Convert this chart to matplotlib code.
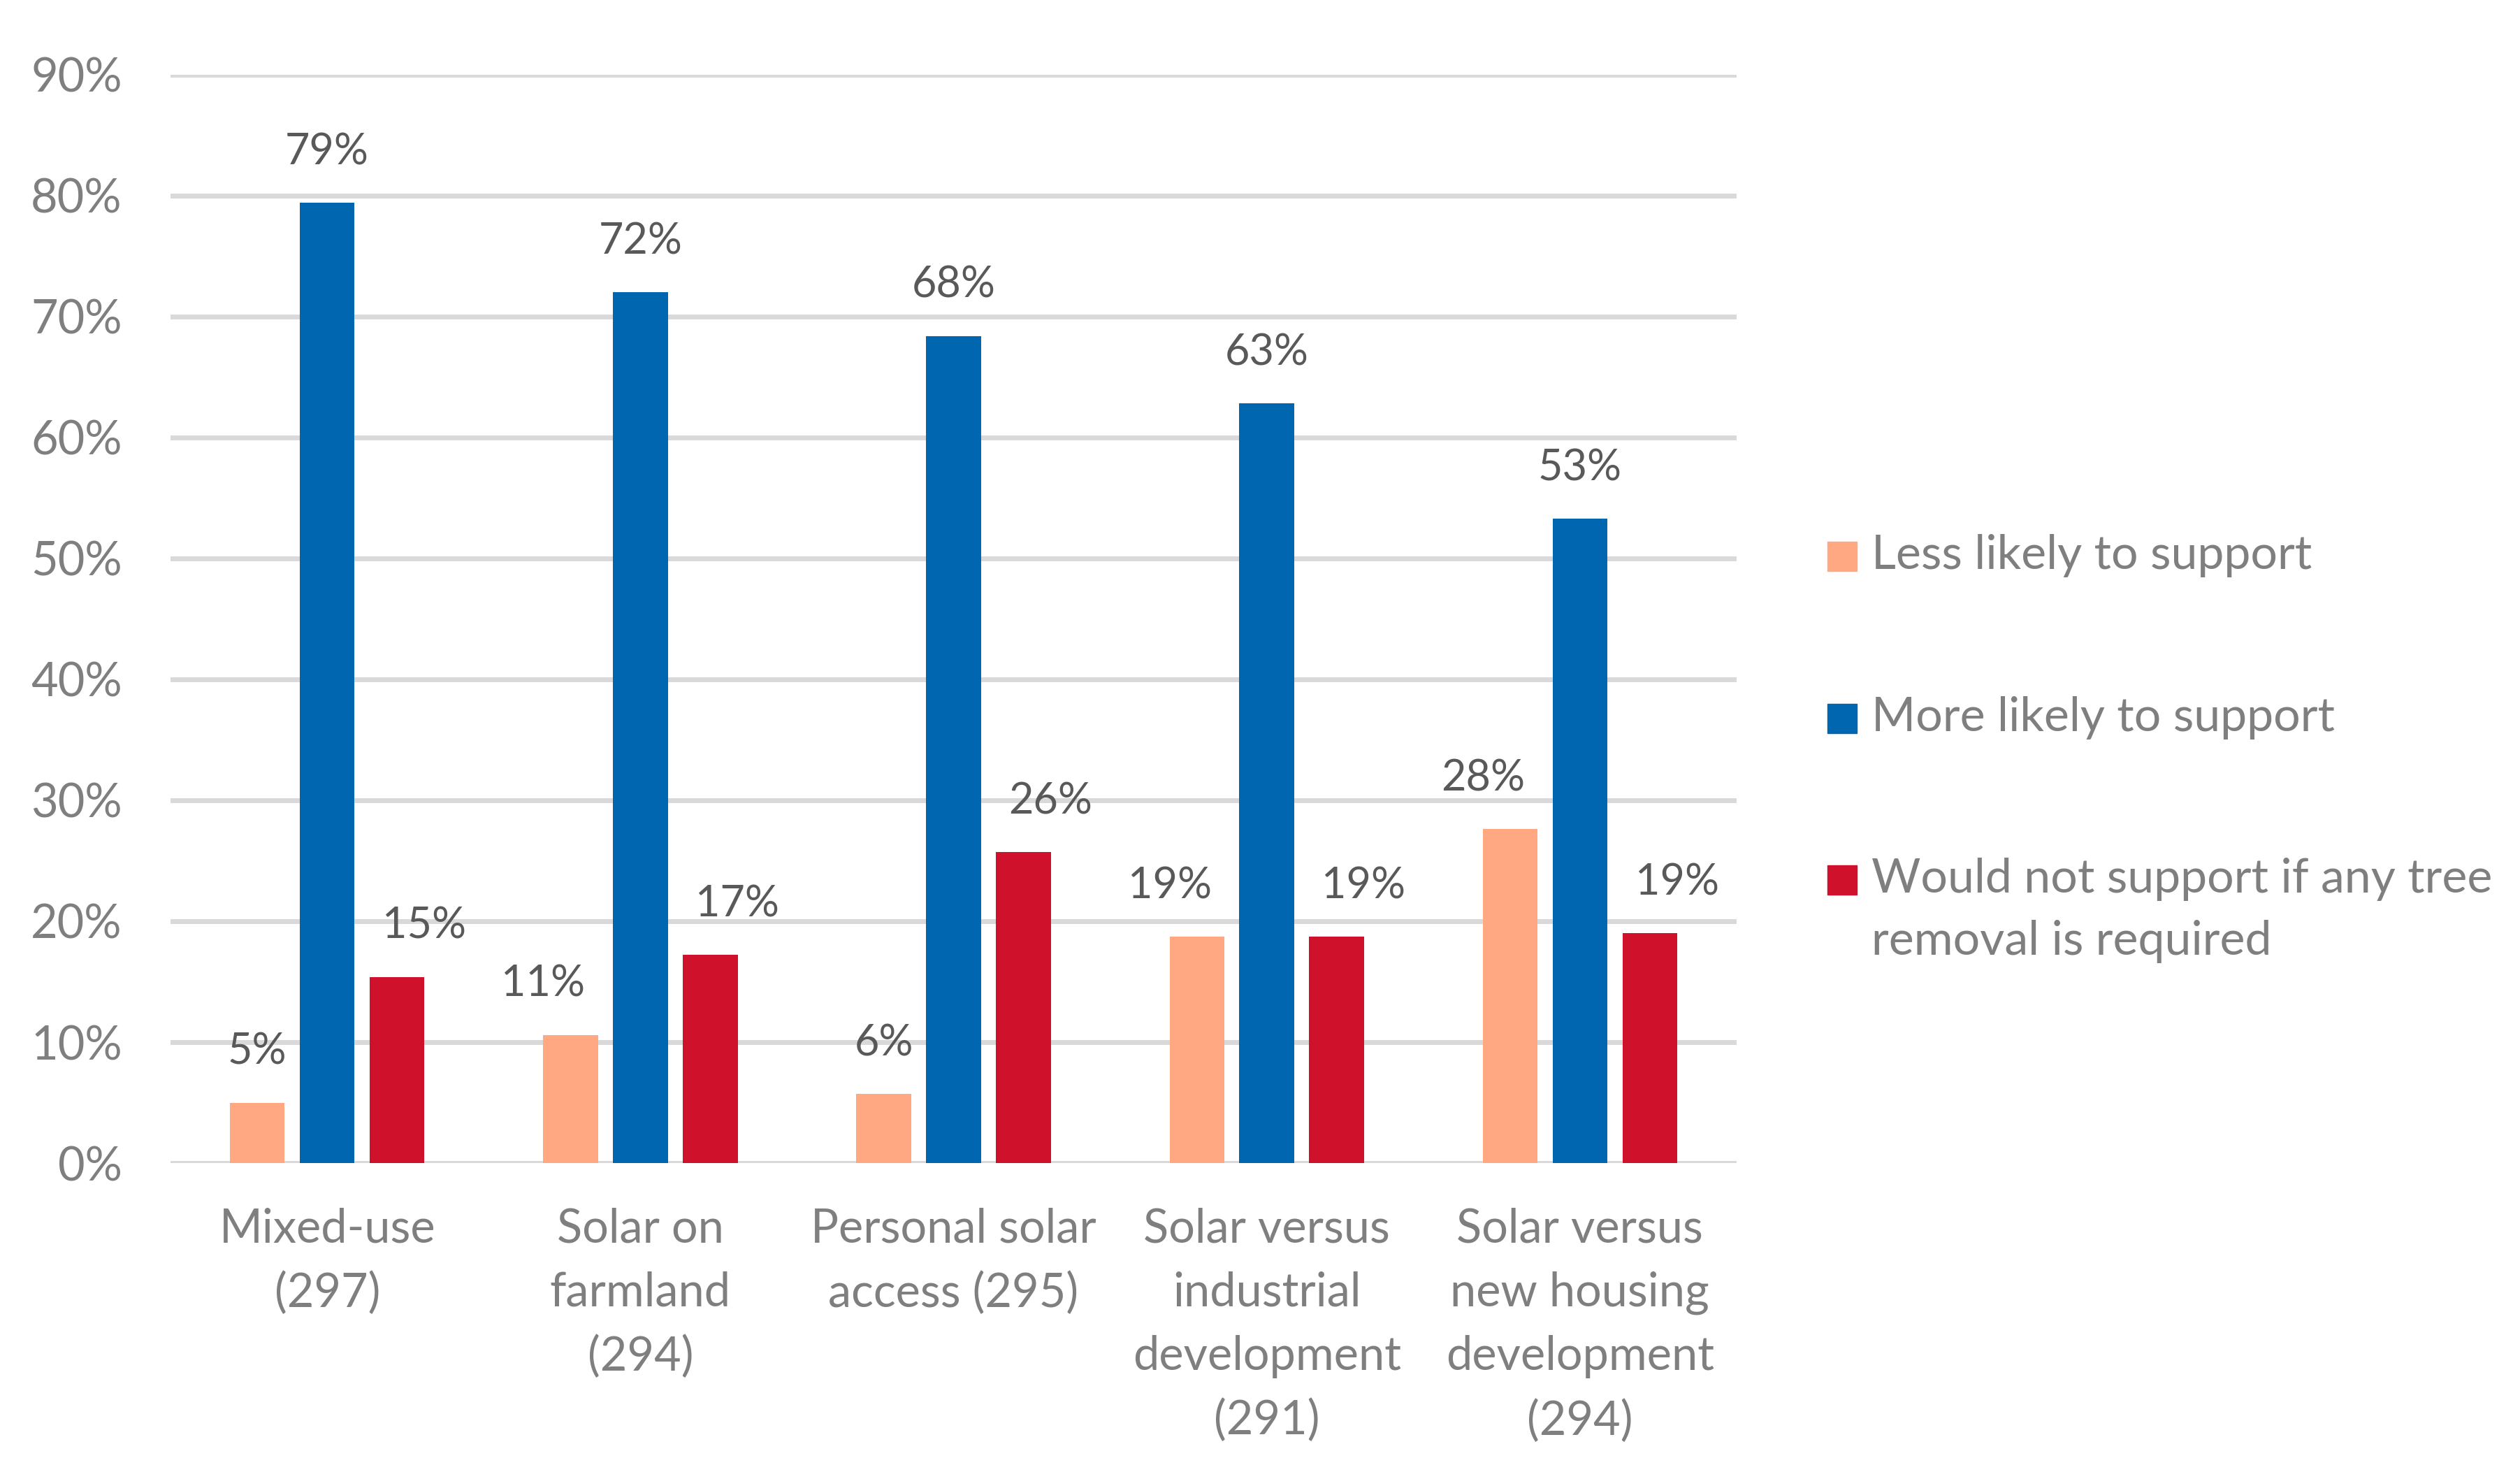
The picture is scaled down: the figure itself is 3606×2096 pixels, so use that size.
import numpy as np
import matplotlib.pyplot as plt
from matplotlib.patches import Rectangle

plt.rcParams['font.family'] = ['Lato', 'DejaVu Sans']

categories = ["Mixed-use\n(297)", "Solar on\nfarmland\n(294)", "Personal solar\naccess (295)",
              "Solar versus\nindustrial\ndevelopment\n(291)", "Solar versus\nnew housing\ndevelopment\n(294)"]
series = ["Less likely to support", "More likely to support",
          "Would not support if any tree\nremoval is required"]
less_likely = [0.050, 0.106, 0.057, 0.187, 0.276]
more_likely = [0.794, 0.720, 0.684, 0.628, 0.533]
would_not = [0.154, 0.172, 0.257, 0.187, 0.190]
colors = ["#FFA882", "#0066B0", "#D0112B"]

fig = plt.figure(figsize=(36.06, 20.96), dpi=100)
ax = fig.add_axes([0.0677, 0.2061, 0.6214, 0.7429])

x = np.arange(len(categories))
pitch = 0.223
width = 0.175
values = [less_likely, more_likely, would_not]

for i, (vals, col) in enumerate(zip(values, colors)):
    pos = x + (i - 1) * pitch
    ax.bar(pos, vals, width=width, color=col, zorder=3)
    for p, v in zip(pos, vals):
        lab = f"{round(v * 100):.0f}%"
        # Excel nudges two-digit side labels outward
        dx = 0
        if i != 1 and v >= 0.095:
            dx = -28 if i == 0 else 28
        ax.annotate(lab, (p, v), xytext=(dx, 52), textcoords="offset points",
                    ha="center", va="center", fontsize=44, color="#595959")

ax.set_xlim(-0.5, len(categories) - 0.5)
ax.set_ylim(0, 0.9)
ax.set_yticks(np.arange(0, 0.91, 0.1))
ax.set_yticklabels([f"{t}%" for t in range(0, 91, 10)])
ax.set_xticks(x)
ax.set_xticklabels(categories, linespacing=1.58)
ax.tick_params(axis="y", length=0, pad=50, labelsize=48, labelcolor="#7F7F7F")
ax.tick_params(axis="x", length=0, pad=46, labelsize=48, labelcolor="#7F7F7F")
ax.grid(axis="y", color="#D9D9D9", linewidth=5, zorder=0)
ax.set_axisbelow(True)
for s in ax.spines.values():
    s.set_visible(False)

# legend drawn by hand so the marker sits on the first text line
leg_y = [796, 1028, 1259]
W, H = 3606, 2096
for yy, lab, col in zip(leg_y, series, colors):
    fig.patches.append(Rectangle((2615 / W, 1 - (yy + 21) / H), 42 / W, 42 / H,
                                 transform=fig.transFigure, color=col))
    fig.text(2678 / W, 1 - (yy - 32) / H, lab, ha="left", va="top", fontsize=49,
             color="#7F7F7F", linespacing=1.55)

fig.savefig("out.png", dpi=100)
